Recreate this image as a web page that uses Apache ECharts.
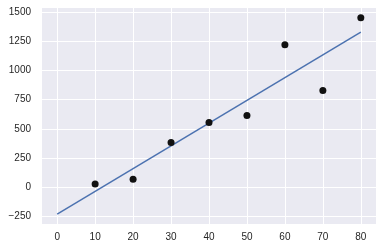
<!DOCTYPE html>
<html><head><meta charset="utf-8">
<script src="https://cdn.jsdelivr.net/npm/echarts@6/dist/echarts.min.js"></script>
<style>html,body{margin:0;padding:0;background:#fff}#c{width:383px;height:251px}</style>
</head><body><div id="c"></div>
<script>
const pointX = [10, 20, 30, 40, 50, 60, 70, 80];
const pointY = [28, 68, 384, 555, 614, 1220, 828, 1450];
const lineX = [0, 80];
const lineY = [-230, 1328];
const xTicks = [0, 10, 20, 30, 40, 50, 60, 70, 80];
const yTicks = [-250, 0, 250, 500, 750, 1000, 1250, 1500];

const chart = echarts.init(document.getElementById('c'), null, {renderer: 'canvas'});
const fmt = v => String(v).replace('-', '\u2212');
const labelStyle = {color: '#262626', fontSize: 10, fontFamily: 'Liberation Sans, Arial, sans-serif'};
chart.setOption({
  animation: false,
  backgroundColor: '#ffffff',
  grid: {left: 42, right: 7, top: 8, bottom: 27, show: true, backgroundColor: '#EAEAF2', borderWidth: 0},
  xAxis: {
    type: 'value', min: -4, max: 84,
    axisLine: {show: false}, axisTick: {show: false, customValues: xTicks},
    axisLabel: Object.assign({customValues: xTicks, margin: 8, formatter: fmt}, labelStyle),
    splitLine: {show: true, customValues: xTicks, lineStyle: {color: '#ffffff', width: 1}}
  },
  yAxis: {
    type: 'value', min: -314, max: 1534,
    axisLine: {show: false}, axisTick: {show: false, customValues: yTicks},
    axisLabel: Object.assign({customValues: yTicks, margin: 11, formatter: fmt}, labelStyle),
    splitLine: {show: true, customValues: yTicks, lineStyle: {color: '#ffffff', width: 1}}
  },
  series: [
    {type: 'line', data: lineX.map((x, i) => [x, lineY[i]]), symbol: 'none',
     lineStyle: {color: '#4c72b0', width: 1.5}, z: 2},
    {type: 'scatter', data: pointX.map((x, i) => [x, pointY[i]]), symbolSize: 7,
     itemStyle: {color: '#111111', opacity: 1}, z: 3}
  ]
});
</script></body></html>
